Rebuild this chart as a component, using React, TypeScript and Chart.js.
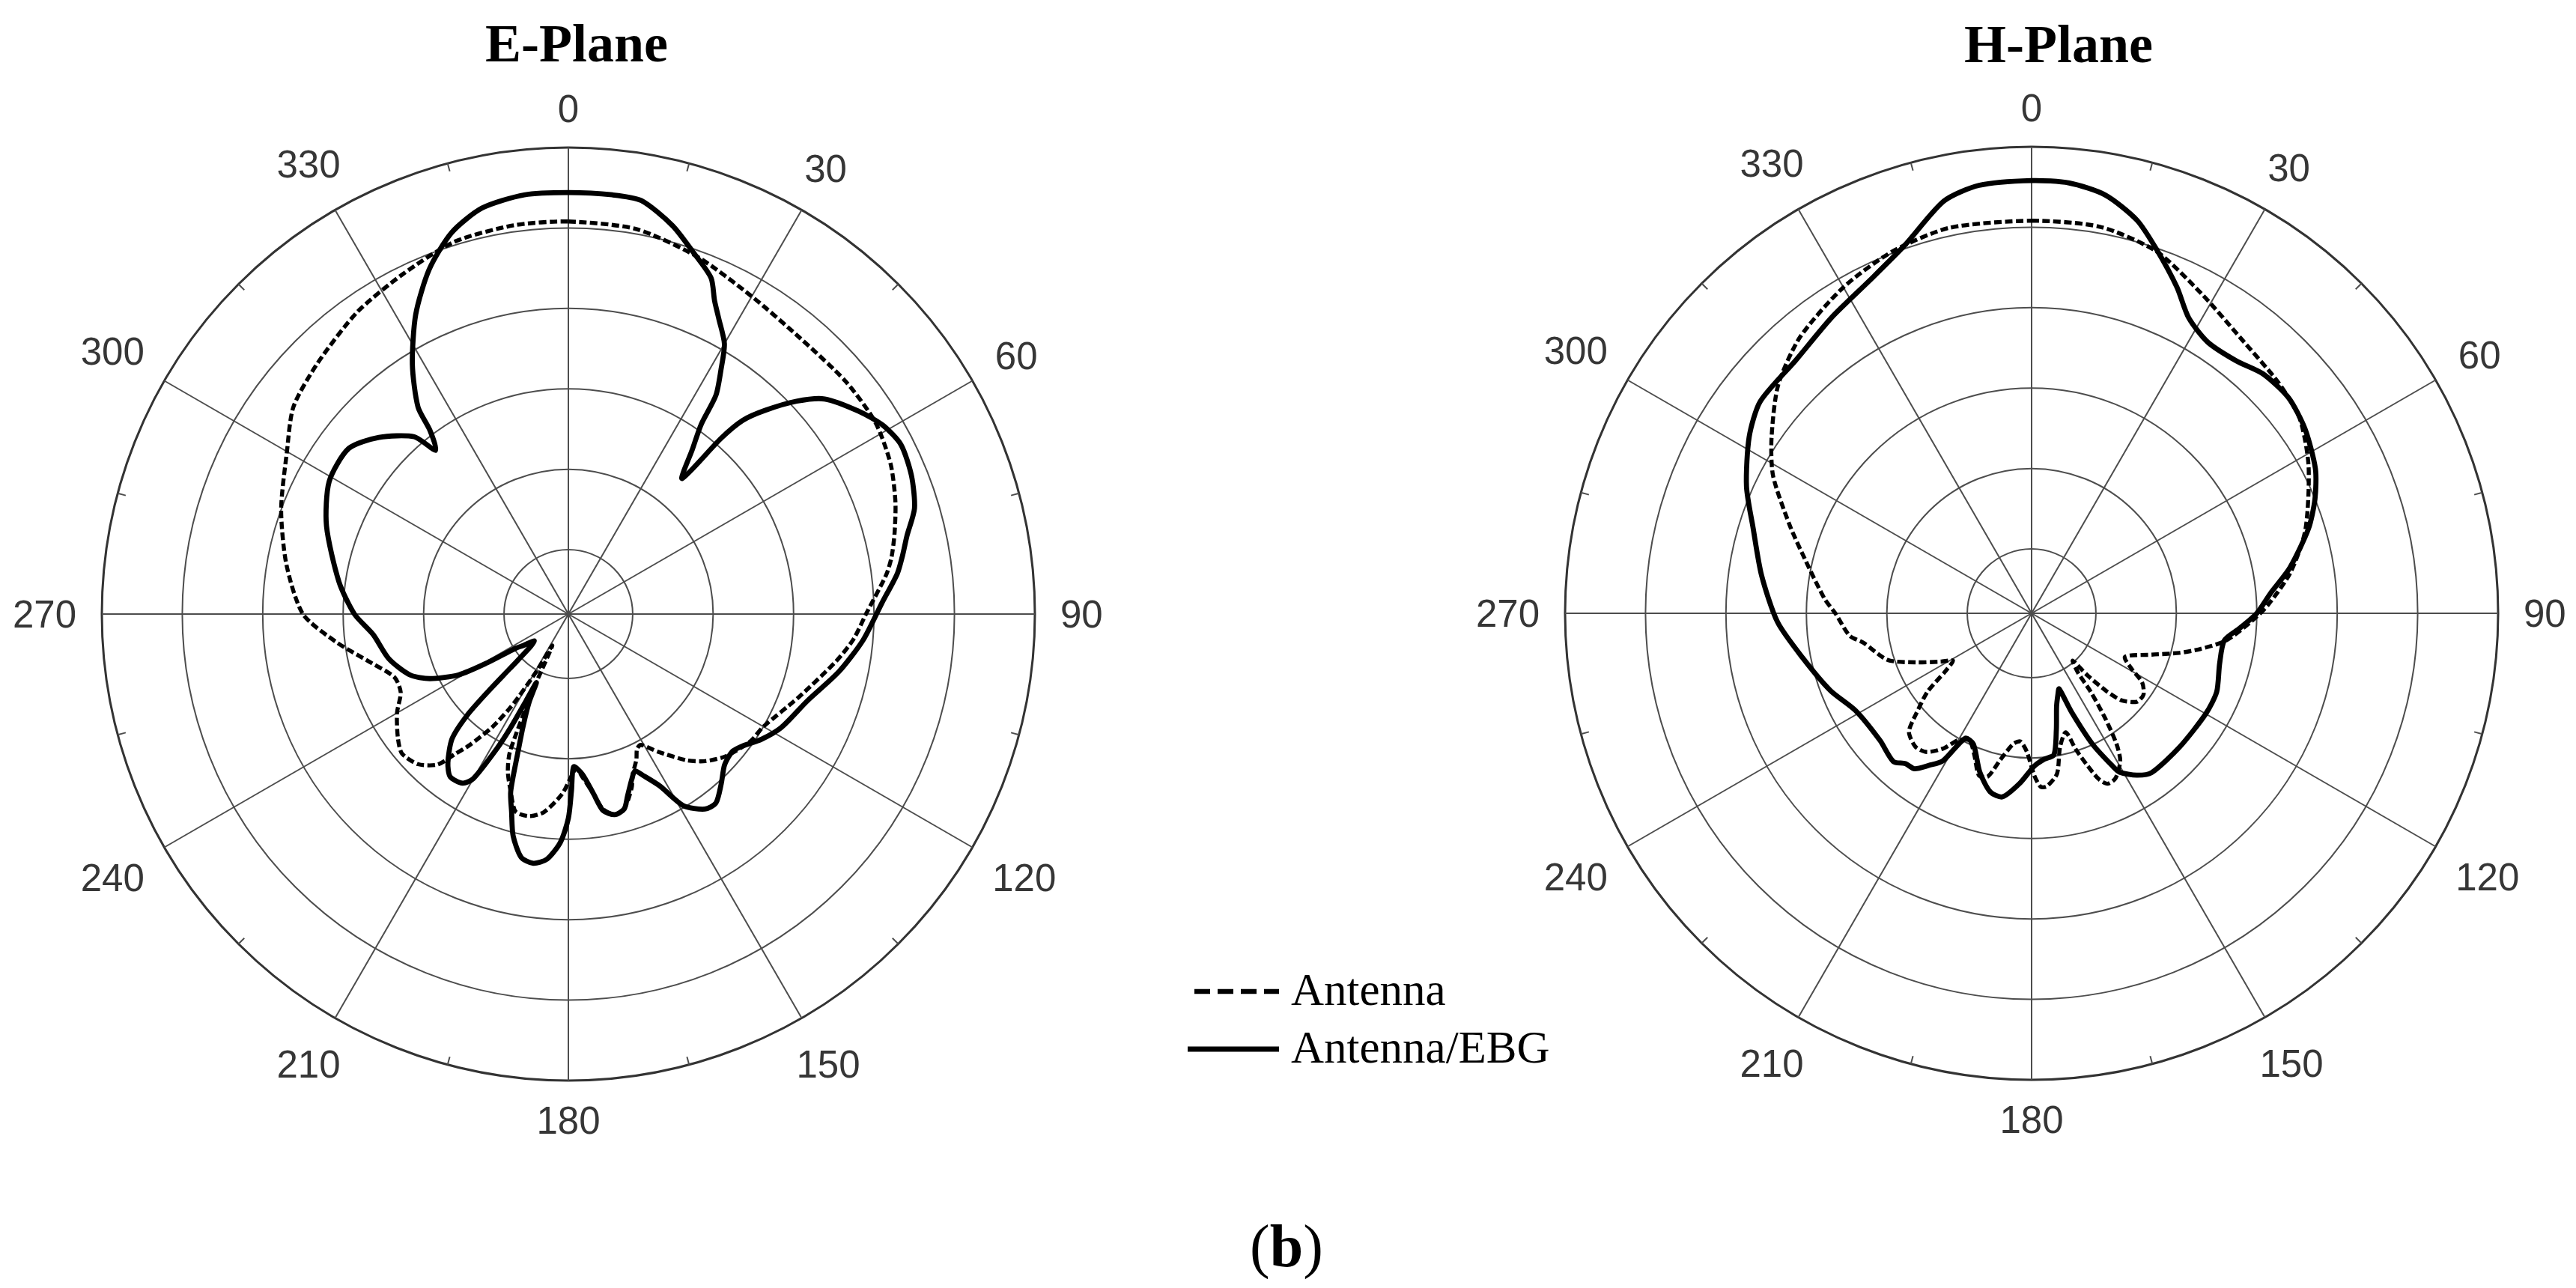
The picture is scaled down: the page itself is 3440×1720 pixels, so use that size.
import React, { useEffect, useRef } from 'react';
import { Chart, registerables } from 'chart.js';

Chart.register(...registerables);

// ---------- axis definitions ----------
const ANGLES: number[] = Array.from({ length: 360 }, (_, i) => i); // theta categories, degrees
const SPOKE_ANGLES = [0, 30, 60, 90, 120, 150, 180, 210, 240, 270, 300, 330];
const MINOR_TICK_ANGLES = [15, 45, 75, 105, 135, 165, 195, 225, 255, 285, 315, 345];
const RING_VALUES = [-25, -20, -15, -10, -5, 0];
const R_MIN = -29;
const R_MAX = 0;

// ---------- E-Plane ----------
const E_ANT_DEG = [0, 10, 20, 30, 40, 50, 58, 65, 71, 76, 80, 83, 90, 95, 100, 110, 120, 125, 132, 137, 141, 147, 151, 153, 155, 158, 160, 164, 167, 170, 172, 175, 177, 179, 182, 187, 191, 195, 198, 201, 203, 205, 207, 209, 211, 212, 214, 217, 219, 221, 225, 230, 234, 240, 245, 250, 256, 263, 270, 280, 290, 300, 307, 315, 325, 334, 343, 352];
const E_ANT_DB = [-4.6, -4.7, -5.4, -6.2, -6.6, -6.5, -6.5, -6.9, -7.5, -8.1, -8.6, -9.1, -10.5, -11.2, -12.1, -13.8, -15.0, -15.2, -15.8, -16.5, -17.3, -18.8, -19.7, -19.6, -19.0, -18.3, -17.5, -16.4, -16.2, -16.7, -17.7, -18.8, -19.4, -18.9, -17.8, -16.6, -16.2, -16.3, -17.4, -18.5, -19.7, -24.0, -26.8, -25.0, -23.0, -22.0, -20.5, -18.8, -17.8, -16.6, -15.8, -15.5, -15.9, -16.7, -17.5, -17.5, -16.4, -14.5, -12.5, -11.2, -10.0, -8.8, -7.6, -6.95, -6.1, -5.5, -4.8, -4.6];

const E_EBG_DEG = [0, 6, 10, 15, 19, 23, 25, 27, 30, 32, 34, 35, 37, 40, 41, 42, 44, 47, 50, 55, 59, 63, 68, 73, 77, 80, 83, 88, 95, 102, 110, 118, 123, 127, 130, 134, 138, 142, 145, 149, 152, 155, 157, 159, 162, 164, 167, 170, 172, 175, 178, 179, 180, 182, 185, 188, 191, 194, 196, 198, 200, 202, 204, 205, 206, 207, 208, 210, 212, 216, 219, 223, 225, 226, 227, 229, 232, 235, 237, 239, 241, 245, 249, 256, 264, 270, 278, 290, 299, 307, 313, 319, 321, 323, 324, 328, 333, 338, 343, 348, 354];
const E_EBG_DB = [-2.8, -2.8, -2.9, -4.0, -5.2, -6.3, -7.5, -8.4, -9.6, -11.1, -12.6, -14.6, -16.2, -18.0, -14.5, -12.8, -11.4, -9.6, -8.2, -7.0, -6.2, -5.8, -6.0, -6.5, -7.4, -7.9, -8.4, -9.5, -10.6, -11.8, -13.2, -14.0, -14.7, -15.4, -15.7, -15.5, -14.8, -14.1, -14.2, -15.1, -16.9, -17.9, -18.4, -18.0, -17.1, -16.4, -16.2, -16.6, -17.7, -19.0, -19.5, -18.0, -16.3, -14.8, -13.7, -13.35, -13.6, -14.8, -16.2, -17.4, -19.8, -21.5, -23.0, -24.3, -23.0, -21.0, -19.5, -17.2, -16.6, -16.5, -17.1, -18.4, -20.1, -22.0, -24.0, -25.8, -26.3, -25.6, -25.1, -23.1, -21.2, -19.5, -18.45, -17.5, -16.8, -15.7, -14.6, -13.0, -12.0, -11.9, -12.9, -14.4, -15.9, -14.7, -13.1, -10.7, -8.1, -5.9, -4.2, -3.2, -2.8];

// ---------- H-Plane ----------
const H_ANT_DEG = [0, 10, 19, 28, 37, 47, 54, 62, 73, 81, 88, 92, 98, 102, 105, 109, 115, 119, 122, 126, 130, 134, 136, 138, 139, 142, 143, 145, 147, 149, 153, 156, 158, 160, 162, 164, 168, 171, 175, 177, 179, 182, 185, 188, 192, 195, 198, 202, 206, 210, 213, 217, 221, 226, 229, 233, 236, 239, 242, 247, 252, 260, 263, 270, 274, 283, 290, 298, 304, 312, 320, 330, 339, 348];
const H_ANT_DB = [-4.6, -4.6, -5.2, -6.5, -7.5, -8.0, -8.4, -9.5, -11.2, -12.7, -14.3, -15.3, -16.8, -18.3, -19.5, -21.1, -22.6, -21.9, -20.9, -20.4, -20.45, -21.2, -22.2, -23.8, -25.1, -24.3, -22.9, -21.0, -19.3, -18.3, -17.5, -17.4, -17.9, -19.0, -20.1, -21.3, -20.5, -18.9, -18.2, -18.2, -18.9, -20.4, -21.0, -20.8, -19.7, -18.5, -18.4, -19.5, -20.2, -19.9, -19.0, -18.2, -18.0, -18.4, -19.5, -20.9, -22.5, -23.3, -22.6, -21.2, -19.6, -18.4, -17.6, -16.8, -16.1, -14.6, -13.0, -10.8, -9.5, -7.8, -6.6, -5.6, -4.9, -4.5];

const H_EBG_DEG = [0, 5, 10, 15, 19, 24, 28, 33, 39, 44, 50, 56, 63, 68, 73, 80, 85, 90, 94, 98, 105, 113, 120, 132, 143, 147, 151, 152, 155, 158, 160, 162, 165, 168, 171, 175, 179, 184, 189, 193, 198, 204, 208, 211, 214, 217, 220, 223, 230, 241, 249, 259, 268, 278, 287, 294, 302, 308, 317, 326, 334, 341, 348, 353];
const H_EBG_DB = [-2.1, -2.15, -2.6, -3.7, -5.1, -6.8, -8.2, -8.9, -8.8, -8.3, -8.15, -8.5, -9.2, -10.0, -11.0, -12.7, -14.05, -15.0, -16.0, -16.9, -16.9, -16.5, -16.5, -16.6, -16.6, -17.0, -17.7, -18.2, -20.0, -22.4, -24.0, -23.7, -23.0, -21.6, -20.1, -19.9, -19.5, -18.4, -17.45, -17.6, -18.6, -20.1, -20.2, -18.3, -17.6, -16.9, -16.8, -16.4, -16.7, -16.5, -15.6, -14.5, -13.2, -12.05, -10.9, -9.6, -8.3, -7.6, -7.5, -6.8, -6.0, -4.8, -2.8, -2.2];

const SERIES_NAMES = ['Antenna', 'Antenna/EBG'];

// ---------- styling constants ----------
const RADIUS = 623;
const PAD = 120;
const CANVAS_SIZE = 2 * (RADIUS + PAD);
const GRID_COLOR = '#4d4d4d';
const OUTER_COLOR = '#333333';
const LABEL_COLOR = '#363636';
const LABEL_FONT_SIZE = 51;
const DIGIT_H = 36.5;
const LABEL_GAP = 34;
const SERIF = '"Liberation Serif", "Times New Roman", Times, serif';
const SANS = '"Liberation Sans", Arial, Helvetica, sans-serif';

function toRadar(deg: number[], db: number[]): (number | null)[] {
  const arr: (number | null)[] = ANGLES.map(() => null);
  deg.forEach((d, i) => {
    arr[ANGLES.indexOf(d)] = db[i];
  });
  return arr;
}

const minorTickPlugin = {
  id: 'minorTicks',
  beforeDatasetsDraw(chart: any) {
    const scale = chart.scales.r;
    const ctx = chart.ctx;
    ctx.save();
    ctx.strokeStyle = GRID_COLOR;
    ctx.lineWidth = 2;
    (chart.data.labels as number[]).forEach((lab, i) => {
      if (!MINOR_TICK_ANGLES.includes(lab)) return;
      const p1 = scale.getPointPosition(i, scale.drawingArea);
      const p2 = scale.getPointPosition(i, scale.drawingArea - 11);
      ctx.beginPath();
      ctx.moveTo(p1.x, p1.y);
      ctx.lineTo(p2.x, p2.y);
      ctx.stroke();
    });
    ctx.restore();
  },
};

const angleLabelPlugin = {
  id: 'angleLabels',
  afterDraw(chart: any) {
    const scale = chart.scales.r;
    const ctx = chart.ctx;
    ctx.save();
    ctx.font = `${LABEL_FONT_SIZE}px ${SANS}`;
    ctx.fillStyle = LABEL_COLOR;
    ctx.textAlign = 'center';
    ctx.textBaseline = 'alphabetic';
    (chart.data.labels as number[]).forEach((lab, i) => {
      if (!SPOKE_ANGLES.includes(lab)) return;
      const text = String(lab);
      const w = ctx.measureText(text).width;
      const a = (lab * Math.PI) / 180;
      const dist =
        scale.drawingArea + LABEL_GAP + (Math.abs(Math.sin(a)) * w) / 2 + (Math.abs(Math.cos(a)) * DIGIT_H) / 2;
      const p = scale.getPointPosition(i, dist);
      ctx.fillText(text, p.x, p.y + DIGIT_H / 2);
    });
    ctx.restore();
  },
};

type Series = { name: string; deg: number[]; db: number[]; dashed: boolean };

function PolarPlot({ left, top, series }: { left: number; top: number; series: Series[] }) {
  const ref = useRef<HTMLCanvasElement>(null);
  useEffect(() => {
    if (!ref.current) return;
    const chart = new Chart(ref.current, {
      type: 'radar',
      data: {
        labels: ANGLES,
        datasets: series.map((s) => ({
          label: s.name,
          data: toRadar(s.deg, s.db),
          borderColor: '#000000',
          backgroundColor: 'rgba(0,0,0,0)',
          borderWidth: s.dashed ? 5.4 : 6.8,
          borderDash: s.dashed ? [10, 4.5] : [],
          borderCapStyle: 'butt',
          borderJoinStyle: 'round',
          fill: false,
          pointRadius: 0,
          pointHoverRadius: 0,
          pointHitRadius: 0,
          spanGaps: true,
          tension: 0.25,
        })),
      } as any,
      options: {
        responsive: false,
        animation: false,
        devicePixelRatio: 1,
        events: [],
        layout: { padding: PAD },
        plugins: {
          legend: { display: false },
          tooltip: { enabled: false },
          title: { display: false },
        },
        scales: {
          r: {
            min: R_MIN,
            max: R_MAX,
            startAngle: 0,
            afterBuildTicks: (scale: any) => {
              scale.ticks = RING_VALUES.map((v) => ({ value: v }));
            },
            ticks: { display: false },
            pointLabels: { display: false },
            grid: {
              circular: true,
              color: (c: any) => (c.tick && c.tick.value === R_MAX ? OUTER_COLOR : GRID_COLOR),
              lineWidth: (c: any) => (c.tick && c.tick.value === R_MAX ? 3 : 2),
            },
            angleLines: {
              display: true,
              color: (c: any) => (SPOKE_ANGLES.includes(ANGLES[c.index]) ? GRID_COLOR : 'rgba(0,0,0,0)'),
              lineWidth: (c: any) => (SPOKE_ANGLES.includes(ANGLES[c.index]) ? 2 : 0),
            },
          },
        } as any,
      },
      plugins: [minorTickPlugin, angleLabelPlugin],
    });
    return () => chart.destroy();
  }, []);
  return (
    <canvas
      ref={ref}
      width={CANVAS_SIZE}
      height={CANVAS_SIZE}
      style={{ position: 'absolute', left, top, width: CANVAS_SIZE, height: CANVAS_SIZE }}
    />
  );
}

function Text({ left, baseline, size, bold, children }: any) {
  return (
    <div
      style={{
        position: 'absolute',
        left,
        top: baseline - 0.8375 * size,
        fontFamily: SERIF,
        fontSize: size,
        lineHeight: 1,
        fontWeight: bold ? 700 : 400,
        whiteSpace: 'nowrap',
        color: '#000',
      }}
    >
      {children}
    </div>
  );
}

export default function App() {
  const eSeries: Series[] = [
    { name: SERIES_NAMES[0], deg: E_ANT_DEG, db: E_ANT_DB, dashed: true },
    { name: SERIES_NAMES[1], deg: E_EBG_DEG, db: E_EBG_DB, dashed: false },
  ];
  const hSeries: Series[] = [
    { name: SERIES_NAMES[0], deg: H_ANT_DEG, db: H_ANT_DB, dashed: true },
    { name: SERIES_NAMES[1], deg: H_EBG_DEG, db: H_EBG_DB, dashed: false },
  ];
  const eCx = 759, eCy = 820, hCx = 2713, hCy = 819;
  const half = CANVAS_SIZE / 2;
  return (
    <div
      style={{
        position: 'fixed',
        left: 0,
        top: 0,
        width: 3440,
        height: 1720,
        background: '#ffffff',
        overflow: 'hidden',
      }}
    >
      <PolarPlot left={eCx - half} top={eCy - half} series={eSeries} />
      <PolarPlot left={hCx - half} top={hCy - half} series={hSeries} />

      <Text left={648} baseline={82} size={72} bold>E-Plane</Text>
      <Text left={2623} baseline={83} size={72} bold>H-Plane</Text>

      <svg
        width={140}
        height={120}
        style={{ position: 'absolute', left: 1580, top: 1300 }}
      >
        <line x1={15} y1={24} x2={128} y2={24} stroke="#000" strokeWidth={6.5} strokeDasharray="21 10" />
        <line x1={6} y1={101} x2={128} y2={101} stroke="#000" strokeWidth={7} />
      </svg>
      <Text left={1724} baseline={1342} size={61}>{SERIES_NAMES[0]}</Text>
      <Text left={1724} baseline={1419} size={61}>{SERIES_NAMES[1]}</Text>

      <Text left={1669} baseline={1691} size={80}>
        (<b>b</b>)
      </Text>
    </div>
  );
}
